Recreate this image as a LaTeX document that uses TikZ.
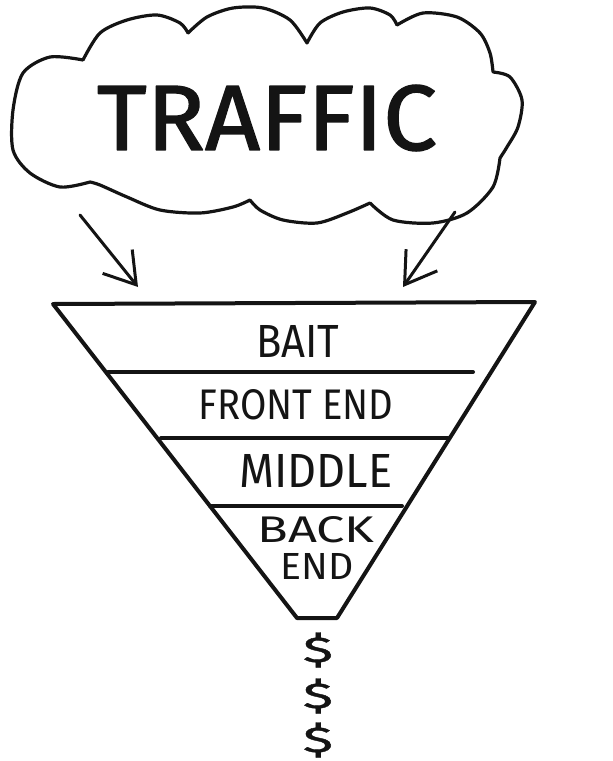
\documentclass[tikz,border=0pt]{standalone}
\usepackage{fontspec}
\usepackage{graphicx}
\setmainfont{Fira Sans}
\usetikzlibrary{arrows.meta}
\begin{document}
\begin{tikzpicture}[x=1pt,y=-1pt,line cap=round,line join=round,
  ink/.style={draw=black!92,line width=3.2pt},
  funnelline/.style={draw=black!92,line width=4pt},
  lbl/.style={inner sep=0pt,text=black!92},
  arr/.style={draw=black!92,line width=3pt,-{Straight Barb[length=30pt,width=38pt,line width=3pt]}}]
\useasboundingbox (0,0) rectangle (613,761);
% cloud
\draw[ink]
  plot[smooth] coordinates {(83,60) (100,33) (127,20) (157,15) (180,23) (188,33)}
  plot[smooth] coordinates {(188,33) (207,17) (233,8) (263,8) (290,20) (307,43)}
  plot[smooth] coordinates {(307,43) (320,23) (343,12) (370,8) (390,15) (397,25)}
  plot[smooth] coordinates {(397,25) (423,13) (457,17) (480,33) (490,53) (493,72)}
  plot[smooth] coordinates {(493,72) (510,77) (522,100) (518,127) (507,147) (500,158)}
  plot[smooth] coordinates {(500,158) (493,187) (467,213) (433,223) (393,220) (370,203)}
  plot[smooth] coordinates {(370,203) (347,213) (317,223) (283,220) (260,210) (250,200)}
  plot[smooth] coordinates {(250,200) (233,207) (200,213) (160,210) (127,197) (100,185) (90,182)}
  plot[smooth] coordinates {(90,182) (60,187) (30,173) (13,150) (13,110) (23,73) (50,57) (83,60)};
\node[lbl] (traffic) at (267,118) {\resizebox{340pt}{65pt}{\addfontfeatures{FakeBold=1.5}TRAFFIC}};
% arrows
\coordinate (la1) at (80,215);
\coordinate (la2) at (138,287);
\coordinate (ra1) at (455,212);
\coordinate (ra2) at (403,287);
\draw[arr] (la1) -- (la2);
\draw[arr] (ra1) -- (ra2);
% funnel
\coordinate (ftl) at (53,304);
\coordinate (ftr) at (535,302);
\coordinate (fbr) at (337,618);
\coordinate (fbl) at (297,618);
\draw[funnelline] (ftl) -- (ftr) -- (fbr) -- (fbl) -- cycle;
\coordinate (l1a) at (108,372); \coordinate (l1b) at (473,372);
\coordinate (l2a) at (161,438); \coordinate (l2b) at (448,438);
\coordinate (l3a) at (210,506); \coordinate (l3b) at (402,506);
\draw[funnelline] (l1a) -- (l1b);
\draw[funnelline] (l2a) -- (l2b);
\draw[funnelline] (l3a) -- (l3b);
% labels
\node[lbl] (bait) at (298,341) {\resizebox{83pt}{32pt}{BAIT}};
\node[lbl] (front) at (296,405) {\resizebox{195pt}{30pt}{FRONT END}};
\node[lbl] (middle) at (316,471) {\resizebox{153pt}{33pt}{MIDDLE}};
\node[lbl] (back) at (316,530) {\resizebox{117pt}{26pt}{BACK}};
\node[lbl] (end) at (317,566) {\resizebox{73pt}{26pt}{END}};
% dollars
\node[lbl] (d1) at (318,650) {\resizebox*{30pt}{35pt}{\addfontfeatures{FakeBold=1}\$}};
\node[lbl] (d2) at (318,696) {\resizebox*{30pt}{35pt}{\addfontfeatures{FakeBold=1}\$}};
\node[lbl] (d3) at (318,740) {\resizebox*{30pt}{35pt}{\addfontfeatures{FakeBold=1}\$}};
\end{tikzpicture}
\end{document}
